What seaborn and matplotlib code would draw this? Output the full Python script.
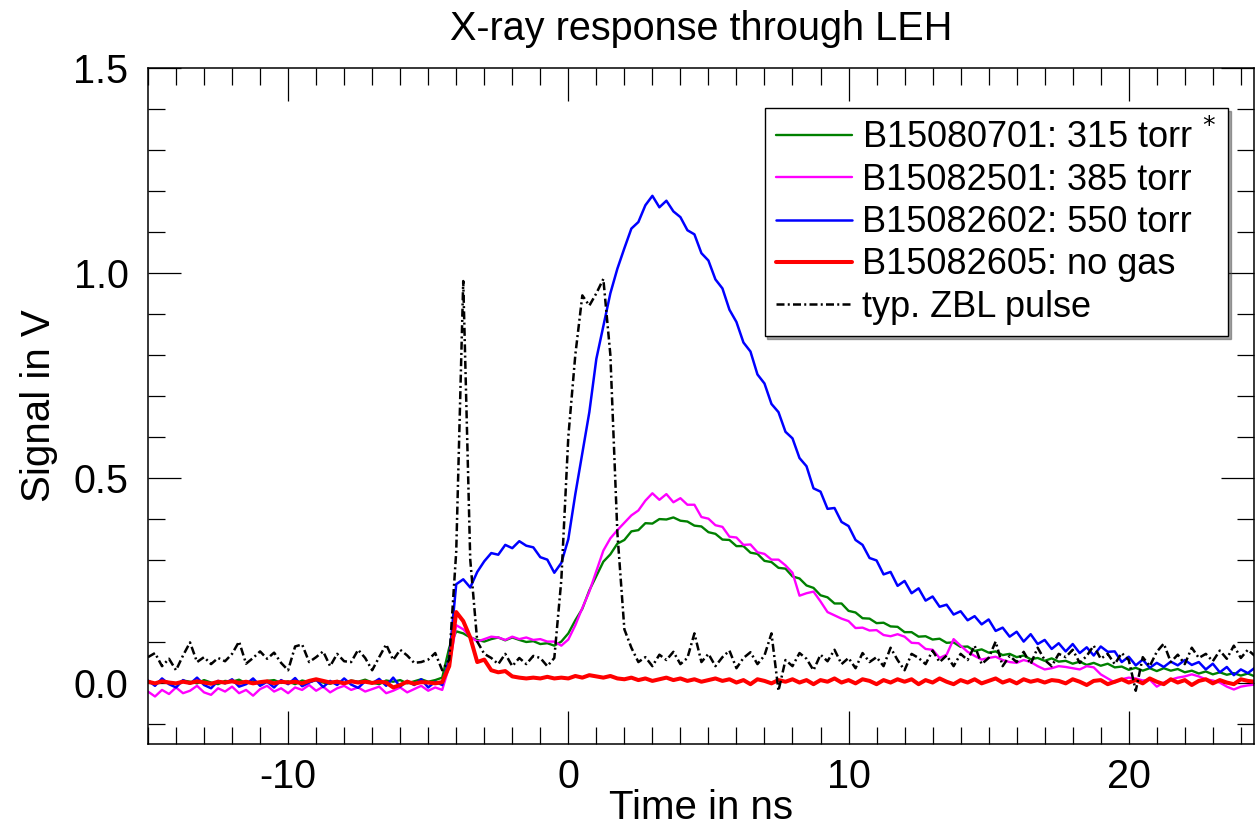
import numpy as np
import pandas as pd
import matplotlib
matplotlib.use("Agg")
import matplotlib.pyplot as plt
from matplotlib.ticker import MultipleLocator, FormatStrFormatter
import seaborn as sns

# ---------------- data ----------------
# common time grid: -15.00 ns ... 24.75 ns in 0.25 ns steps (one row = 1 ns)
time_ns = np.arange(-15.0, 24.76, 0.25)

green_315 = [
    0.004, -0.003, 0.006, 0.000,   -0.004, 0.005, 0.002, -0.002,
    0.006, 0.000, -0.004, 0.004,   0.002, 0.007, -0.002, 0.003,
    -0.003, 0.004, 0.006, -0.001,  0.003, -0.004, 0.005, 0.001,
    0.006, 0.000, -0.003, 0.004,   -0.002, 0.005, 0.002, 0.007,
    0.000, -0.004, 0.005, 0.002,   0.006, -0.002, 0.003, 0.008,
    0.002, 0.006, 0.012, 0.085,    0.125, 0.120, 0.110, 0.104,
    0.100, 0.106, 0.110, 0.103,    0.110, 0.104, 0.099, 0.101,
    0.094, 0.096, 0.090, 0.100,    0.120, 0.152, 0.180, 0.225,
    0.260, 0.295, 0.313, 0.339,    0.348, 0.369, 0.372, 0.389,
    0.388, 0.399, 0.398, 0.403,    0.395, 0.393, 0.383, 0.381,
    0.367, 0.363, 0.349, 0.348,    0.333, 0.333, 0.317, 0.314,
    0.297, 0.294, 0.280, 0.278,    0.259, 0.254, 0.237, 0.231,
    0.213, 0.208, 0.193, 0.193,    0.175, 0.171, 0.157, 0.156,
    0.145, 0.146, 0.137, 0.136,    0.123, 0.123, 0.112, 0.113,
    0.105, 0.107, 0.097, 0.098,    0.087, 0.088, 0.077, 0.081,
    0.073, 0.076, 0.067, 0.070,    0.062, 0.066, 0.057, 0.060,
    0.053, 0.059, 0.051, 0.053,    0.046, 0.051, 0.043, 0.048,
    0.041, 0.046, 0.037, 0.039,    0.031, 0.036, 0.029, 0.035,
    0.028, 0.035, 0.029, 0.033,    0.025, 0.029, 0.022, 0.027,
    0.020, 0.025, 0.019, 0.023,    0.017, 0.022, 0.015, 0.021,
]

magenta_385 = [
    -0.022, -0.034, -0.018, -0.028,  -0.012, -0.026, -0.020, -0.008,
    -0.024, -0.030, -0.014, -0.022,  -0.010, -0.026, -0.018, -0.032,
    -0.016, -0.008, -0.022, -0.014,  -0.026, -0.012, -0.018, -0.006,
    -0.020, -0.010, -0.024, -0.014,  -0.008, -0.018, -0.012, -0.022,
    -0.016, -0.010, -0.026, -0.020,  -0.012, -0.024, -0.016, -0.008,
    -0.020, -0.012, -0.018, 0.040,   0.140, 0.130, 0.112, 0.100,
    0.106, 0.112, 0.110, 0.104,      0.112, 0.106, 0.110, 0.104,
    0.106, 0.100, 0.100, 0.090,      0.105, 0.140, 0.182, 0.222,
    0.272, 0.322, 0.352, 0.372,      0.390, 0.408, 0.420, 0.444,
    0.462, 0.446, 0.460, 0.440,      0.450, 0.434, 0.434, 0.404,
    0.400, 0.384, 0.380, 0.356,      0.354, 0.336, 0.337, 0.318,
    0.314, 0.300, 0.300, 0.286,      0.268, 0.212, 0.218, 0.222,
    0.198, 0.172, 0.164, 0.156,      0.150, 0.133, 0.134, 0.127,
    0.128, 0.116, 0.113, 0.118,      0.112, 0.097, 0.096, 0.082,
    0.080, 0.060, 0.068, 0.106,      0.090, 0.075, 0.065, 0.056,
    0.060, 0.063, 0.055, 0.050,      0.048, 0.055, 0.050, 0.040,
    0.032, 0.035, 0.040, 0.038,      0.035, 0.032, 0.040, 0.037,
    0.020, 0.010, 0.000, 0.008,      0.012, 0.010, 0.005, 0.007,
    -0.010, 0.000, 0.007, 0.012,     0.015, 0.020, 0.015, 0.008,
    0.005, 0.000, -0.010, -0.017,    -0.010, -0.007, -0.005, -0.005,
]

blue_550 = [
    0.005, -0.008, 0.010, -0.004,    -0.012, 0.006, -0.003, 0.012,
    -0.006, -0.014, 0.004, -0.002,   0.008, -0.010, -0.004, 0.010,
    -0.008, 0.002, -0.012, 0.006,    -0.004, 0.011, -0.009, 0.000,
    0.007, -0.011, 0.004, -0.006,    0.010, -0.005, -0.013, 0.003,
    -0.002, 0.009, -0.008, 0.012,    -0.010, 0.004, -0.006, 0.008,
    -0.012, 0.002, -0.006, 0.060,    0.240, 0.252, 0.232, 0.270,
    0.296, 0.316, 0.312, 0.336,      0.328, 0.345, 0.334, 0.330,
    0.306, 0.300, 0.268, 0.292,      0.350, 0.460, 0.560, 0.660,
    0.790, 0.870, 0.950, 1.010,      1.060, 1.108, 1.124, 1.165,
    1.188, 1.160, 1.176, 1.150,      1.136, 1.104, 1.094, 1.048,
    1.030, 0.984, 0.962, 0.910,      0.880, 0.830, 0.808, 0.752,
    0.730, 0.680, 0.660, 0.612,      0.596, 0.548, 0.528, 0.474,
    0.466, 0.424, 0.426, 0.392,      0.382, 0.348, 0.336, 0.304,
    0.298, 0.264, 0.270, 0.236,      0.248, 0.218, 0.230, 0.200,
    0.210, 0.185, 0.190, 0.166,      0.174, 0.152, 0.162, 0.142,
    0.154, 0.126, 0.134, 0.112,      0.124, 0.100, 0.118, 0.094,
    0.104, 0.082, 0.096, 0.076,      0.094, 0.072, 0.086, 0.066,
    0.088, 0.075, 0.076, 0.050,      0.063, 0.042, 0.056, 0.036,
    0.048, 0.038, 0.051, 0.042,      0.055, 0.043, 0.050, 0.032,
    0.046, 0.025, 0.038, 0.018,      0.032, 0.023, 0.036, 0.026,
]

red_nogas = [
    0.002, -0.002, 0.003, 0.000,     -0.002, 0.002, -0.001, 0.003,
    0.000, -0.003, 0.002, 0.000,     0.003, -0.001, 0.002, -0.002,
    0.001, 0.003, -0.002, 0.002,     0.000, 0.002, -0.002, 0.004,
    0.008, 0.004, 0.000, 0.002,      -0.002, 0.003, 0.000, 0.002,
    -0.001, 0.002, 0.000, -0.012,    -0.006, 0.002, -0.003, 0.001,
    0.000, -0.002, 0.001, 0.040,     0.172, 0.150, 0.110, 0.050,
    0.056, 0.030, 0.025, 0.028,      0.015, 0.012, 0.010, 0.012,
    0.010, 0.014, 0.010, 0.012,      0.010, 0.016, 0.012, 0.018,
    0.015, 0.012, 0.016, 0.010,      0.008, 0.012, 0.006, 0.010,
    0.004, 0.008, 0.012, 0.006,      0.010, 0.004, 0.008, 0.002,
    0.006, 0.010, 0.004, 0.008,      0.000, 0.006, -0.004, 0.008,
    0.004, -0.002, 0.006, 0.002,     0.008, 0.000, 0.006, -0.004,
    0.006, 0.002, 0.010, 0.000,      0.006, -0.002, 0.008, 0.004,
    -0.004, 0.006, 0.000, 0.008,     0.002, 0.008, -0.004, 0.006,
    0.000, 0.010, 0.002, -0.004,     0.006, 0.000, 0.008, -0.002,
    0.004, 0.010, 0.000, 0.006,      -0.002, 0.008, 0.002, 0.006,
    0.000, 0.006, 0.004, -0.002,     0.008, 0.002, -0.006, 0.004,
    0.006, -0.004, 0.002, 0.008,     0.000, 0.006, -0.002, 0.010,
    0.002, -0.004, 0.008, 0.000,     0.006, -0.006, 0.004, 0.008,
    -0.002, 0.006, 0.000, -0.004,    0.008, 0.004, 0.002, 0.002,
]

zbl_pulse = [
    0.062, 0.072, 0.040, 0.058,      0.030, 0.066, 0.098, 0.050,
    0.062, 0.045, 0.060, 0.052,      0.070, 0.100, 0.046, 0.060,
    0.076, 0.058, 0.073, 0.048,      0.030, 0.088, 0.093, 0.050,
    0.062, 0.076, 0.040, 0.070,      0.052, 0.050, 0.080, 0.060,
    0.030, 0.062, 0.093, 0.055,      0.080, 0.066, 0.048, 0.050,
    0.056, 0.072, 0.030, 0.056,      0.320, 0.980, 0.300, 0.100,
    0.070, 0.060, 0.045, 0.070,      0.040, 0.060, 0.045, 0.065,
    0.060, 0.040, 0.060, 0.250,      0.600, 0.800, 0.945, 0.920,
    0.950, 0.985, 0.800, 0.366,      0.130, 0.085, 0.050, 0.062,
    0.040, 0.068, 0.055, 0.075,      0.045, 0.060, 0.120, 0.050,
    0.070, 0.040, 0.062, 0.078,      0.035, 0.060, 0.074, 0.045,
    0.066, 0.120, -0.020, 0.055,     0.040, 0.072, 0.058, 0.030,
    0.068, 0.052, 0.080, 0.045,      0.060, 0.035, 0.072, 0.050,
    0.062, 0.040, 0.085, 0.055,      0.030, 0.070, 0.060, 0.045,
    0.078, 0.050, 0.066, 0.040,      0.070, 0.055, 0.090, 0.045,
    0.060, 0.100, 0.040, 0.065,      0.050, 0.075, 0.045, 0.085,
    0.055, 0.040, 0.070, 0.062,      0.080, 0.048, 0.065, 0.090,
    0.058, 0.070, 0.045, 0.072,      0.055, -0.020, 0.062, 0.040,
    0.075, 0.095, 0.050, 0.068,      0.045, 0.085, 0.060, 0.070,
    0.052, 0.078, 0.058, 0.090,      0.060, 0.080, 0.065, 0.070,
]

series_labels = [r"B15080701: 315 torr$\,^*$", "B15082501: 385 torr",
                 "B15082602: 550 torr", "B15082605: no gas", "typ. ZBL pulse"]
x_ticks = [-10, 0, 10, 20]
y_ticks = [0.0, 0.5, 1.0, 1.5]

# ---------------- style ----------------
sns.set_style("ticks")
plt.rcParams["font.family"] = ["Liberation Sans", "DejaVu Sans"]
plt.rcParams["axes.unicode_minus"] = False
for key in ["text.color", "axes.labelcolor", "xtick.color", "ytick.color",
            "axes.edgecolor"]:
    plt.rcParams[key] = "black"

fig = plt.figure(figsize=(12.55, 8.30), dpi=100)
ax = fig.add_axes([148 / 1255, 1 - 744 / 830, 1106 / 1255, (744 - 68) / 830])

styles = [
    dict(color="#008000", lw=1.7),
    dict(color="#ff00ff", lw=1.7),
    dict(color="#0000ff", lw=1.8),
    dict(color="#ff0000", lw=2.9),
    dict(color="black", lw=1.8, ls=(0, (3.2, 1.3, 0.8, 1.3))),
]
all_series = [green_315, magenta_385, blue_550, red_nogas, zbl_pulse]

for vals, lab, st in zip(all_series, series_labels, styles):
    df = pd.DataFrame({"time": time_ns[:len(vals)], "signal": vals})
    sns.lineplot(data=df, x="time", y="signal", ax=ax, label=lab,
                 errorbar=None, color=st["color"], linewidth=st["lw"],
                 linestyle=st.get("ls", "-"))

ax.set_xlim(-15, 24.47)
ax.set_ylim(-0.15, 1.5)
ax.xaxis.set_major_locator(MultipleLocator(10))
ax.xaxis.set_minor_locator(MultipleLocator(1))
ax.yaxis.set_major_locator(MultipleLocator(0.5))
ax.yaxis.set_minor_locator(MultipleLocator(0.1))
ax.yaxis.set_major_formatter(FormatStrFormatter("%.1f"))
ax.set_xticks(x_ticks)
ax.set_yticks(y_ticks)

for sp in ax.spines.values():
    sp.set_linewidth(1.1)
    sp.set_color("black")
ax.tick_params(which="both", direction="in", top=True, right=True,
               width=0.9, color="black", labelsize=28.5, labelcolor="black")
ax.tick_params(which="major", length=24, pad=10)
ax.tick_params(which="minor", length=12)
ax.tick_params(axis="y", which="major", pad=14)

ax.set_title("X-ray response through LEH", fontsize=28.5, pad=20, color="black")
ax.set_xlabel("Time in ns", fontsize=29, labelpad=-5)
ax.set_ylabel("Signal in V", fontsize=29, labelpad=11)

leg = ax.legend(loc="upper right", bbox_to_anchor=((1228 - 148) / 1106, (744 - 108) / 676),
                borderaxespad=0, fontsize=26, frameon=True, fancybox=False,
                shadow=True, handlelength=2.1, handletextpad=0.28,
                labelspacing=0.2, borderpad=0.32)
leg.get_frame().set_edgecolor("black")
leg.get_frame().set_linewidth(1.0)

fig.savefig("out.png", dpi=100)
